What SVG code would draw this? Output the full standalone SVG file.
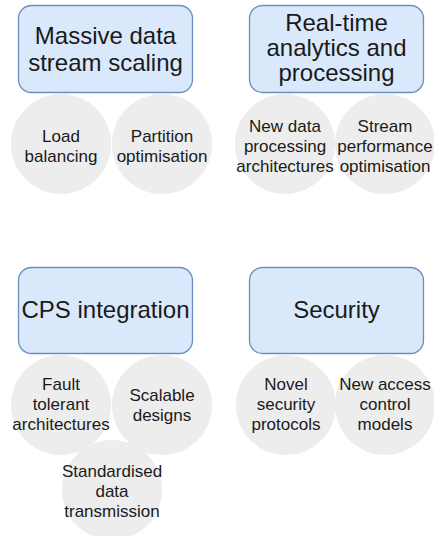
<svg xmlns="http://www.w3.org/2000/svg" width="434" height="536" viewBox="0 0 434 536">
  <style>
    .topic { fill: #dae8fc; stroke: #6c8ebf; stroke-width: 1.3; }
    .sub { fill: #ededed; stroke: none; }
    .title { font-family: "Liberation Sans", Arial, sans-serif; font-size: 24px; fill: #1a1a1a; text-anchor: middle; }
    .label { font-family: "Liberation Sans", Arial, sans-serif; font-size: 17px; fill: #1a1a1a; text-anchor: middle; }
  </style>
  <rect width="434" height="536" fill="#ffffff"/>

  <!-- sub-topic circles (drawn first so topic boxes sit on top) -->
  <g id="load-balancing">
    <circle class="sub" cx="61" cy="144" r="50"/>
    <text class="label" x="61" y="142">Load</text>
    <text class="label" x="61" y="162">balancing</text>
  </g>
  <g id="partition-optimisation">
    <circle class="sub" cx="162" cy="144" r="50"/>
    <text class="label" x="162" y="142">Partition</text>
    <text class="label" x="162" y="162">optimisation</text>
  </g>
  <g id="new-data-processing">
    <circle class="sub" cx="285" cy="144" r="50"/>
    <text class="label" x="285" y="132">New data</text>
    <text class="label" x="285" y="152">processing</text>
    <text class="label" x="285" y="172">architectures</text>
  </g>
  <g id="stream-performance">
    <circle class="sub" cx="385" cy="144" r="50"/>
    <text class="label" x="385" y="132">Stream</text>
    <text class="label" x="385" y="152">performance</text>
    <text class="label" x="385" y="172">optimisation</text>
  </g>

  <g id="fault-tolerant">
    <circle class="sub" cx="61" cy="405" r="50"/>
    <text class="label" x="61" y="390">Fault</text>
    <text class="label" x="61" y="410">tolerant</text>
    <text class="label" x="61" y="430">architectures</text>
  </g>
  <g id="scalable-designs">
    <circle class="sub" cx="162" cy="405" r="50"/>
    <text class="label" x="162" y="401">Scalable</text>
    <text class="label" x="162" y="421">designs</text>
  </g>
  <g id="standardised-transmission">
    <circle class="sub" cx="112" cy="490" r="50"/>
    <text class="label" x="112" y="477">Standardised</text>
    <text class="label" x="112" y="497">data</text>
    <text class="label" x="112" y="517">transmission</text>
  </g>
  <g id="novel-security-protocols">
    <circle class="sub" cx="286" cy="405" r="50"/>
    <text class="label" x="286" y="390">Novel</text>
    <text class="label" x="286" y="410">security</text>
    <text class="label" x="286" y="430">protocols</text>
  </g>
  <g id="new-access-control">
    <circle class="sub" cx="385" cy="405" r="50"/>
    <text class="label" x="385" y="390">New access</text>
    <text class="label" x="385" y="410">control</text>
    <text class="label" x="385" y="430">models</text>
  </g>

  <!-- topic boxes -->
  <g id="massive-data-stream-scaling">
    <rect class="topic" x="18.5" y="5.5" width="174" height="87" rx="13"/>
    <text class="title" x="105.5" y="44">Massive data</text>
    <text class="title" x="105.5" y="71">stream scaling</text>
  </g>
  <g id="real-time-analytics">
    <rect class="topic" x="249.5" y="5.5" width="174" height="87" rx="13"/>
    <text class="title" x="336.5" y="31">Real-time</text>
    <text class="title" x="336.5" y="56">analytics and</text>
    <text class="title" x="336.5" y="81">processing</text>
  </g>
  <g id="cps-integration">
    <rect class="topic" x="18.5" y="267.5" width="174" height="86" rx="13"/>
    <text class="title" x="105.5" y="318">CPS integration</text>
  </g>
  <g id="security">
    <rect class="topic" x="249.5" y="267.5" width="174" height="86" rx="13"/>
    <text class="title" x="336.5" y="318">Security</text>
  </g>

  <g id="connectors"/>
</svg>
